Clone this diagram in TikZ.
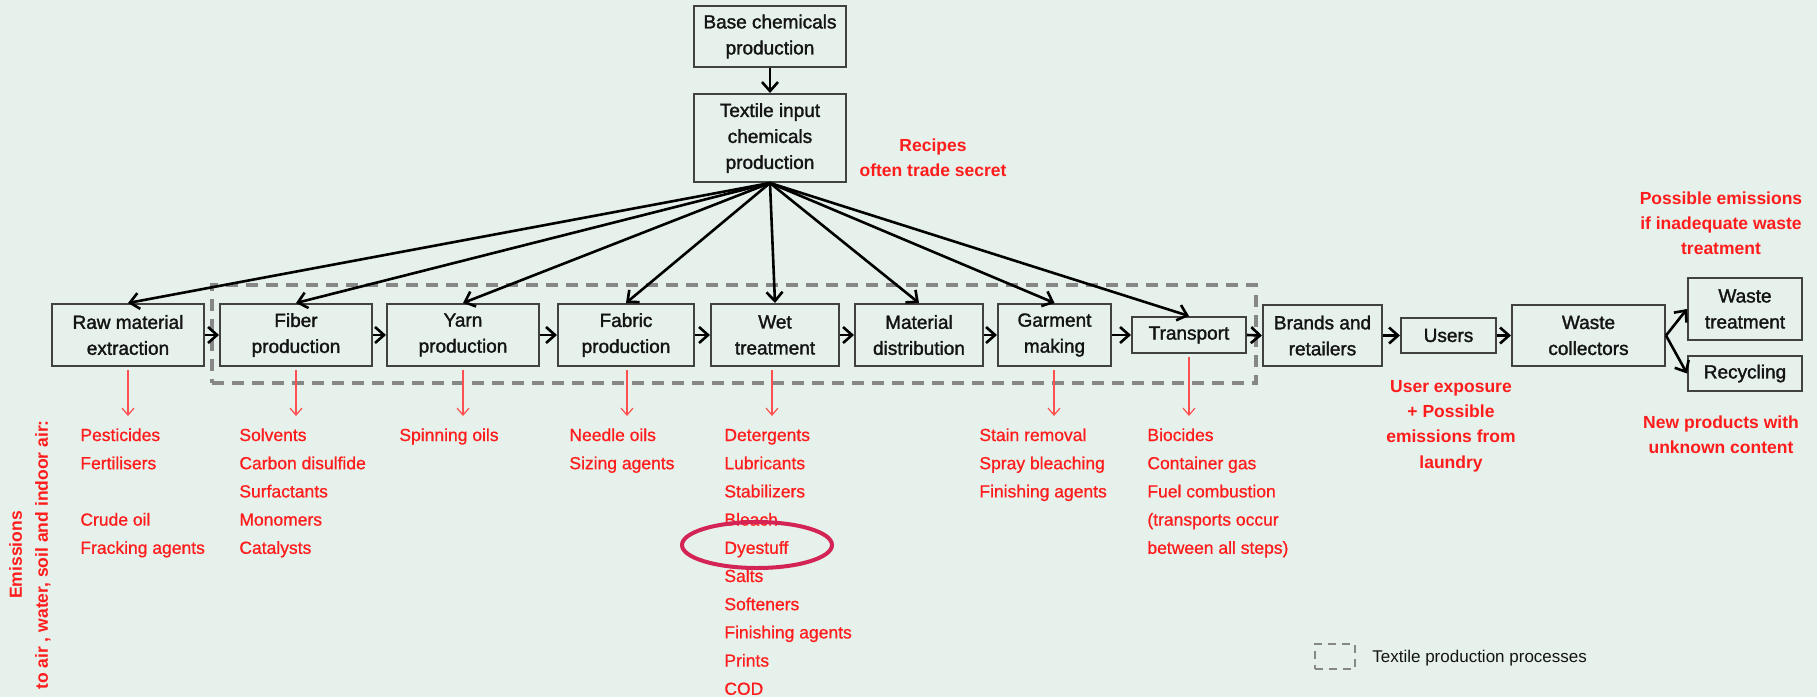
\documentclass[tikz,border=0pt]{standalone}
\usepackage{fontspec}
\setmainfont{Liberation Sans}
\newfontfamily\boxfont[RawFeature={embolden=1.6}]{Liberation Sans}
\newfontfamily\listfont[RawFeature={embolden=0.8}]{Liberation Sans}
\usetikzlibrary{arrows.meta}

\definecolor{bgc}{RGB}{229,241,234}
\definecolor{boxline}{RGB}{65,65,65}
\definecolor{boxtext}{RGB}{20,20,20}
\definecolor{redtxt}{RGB}{255,28,28}
\definecolor{redarr}{RGB}{255,80,80}
\definecolor{dashgray}{RGB}{135,135,135}
\definecolor{ringc}{RGB}{212,36,86}

% one red list of substances, one line per item
\newcommand\emitlist[3]{%
  \foreach \t [count=\i from 0] in {#3}
    \node[lst] (#1-\i) at (#2,{441+28.2*\i}) {\t};}

\begin{document}
\begin{tikzpicture}[x=0.5pt,y=-0.5pt,
  proc/.style={draw=boxline,line width=1pt,align=center,inner sep=0pt,
    font=\boxfont\fontsize{9.5}{13}\selectfont,text=boxtext},
  flow/.style={-{Straight Barb[length=4.5pt,width=8pt,line width=1.3pt]},line width=1.3pt,black},
  emit/.style={-{Straight Barb[length=3.5pt,width=6pt,line width=0.6pt]},line width=0.6pt,redarr},
  lst/.style={font=\listfont\fontsize{8.75}{14}\selectfont,text=redtxt,inner sep=0pt,anchor=base west},
  note/.style={font=\bfseries\fontsize{8.75}{12.6}\selectfont,text=redtxt,align=center,inner sep=0pt},
  frame/.style={draw=dashgray,line width=1.6pt,dash pattern=on 6pt off 4pt,inner sep=0pt},
]
% background and page size
\fill[bgc] (0,0) rectangle (1817,697);
\useasboundingbox (0,0) rectangle (1817,697);

% frame around the textile production processes
\node[frame,minimum width=522pt,minimum height=49pt] (procframe) at (734,334) {};

% chemical supply
\node[proc,minimum width=76pt,minimum height=30.5pt] (base) at (770,36.5) {Base chemicals\\production};
\node[proc,minimum width=76pt,minimum height=44pt] (input) at (770,138) {Textile input\\chemicals\\production};

% life cycle chain
\node[proc,minimum width=76pt,minimum height=31pt] (raw) at (128,335) {Raw material\\extraction};
\node[proc,minimum width=76pt,minimum height=31pt] (fiber) at (296,335) {Fiber\\production};
\node[proc,minimum width=76pt,minimum height=31pt] (yarn) at (463,335) {Yarn\\production};
\node[proc,minimum width=68pt,minimum height=31pt] (fabric) at (626,335) {Fabric\\production};
\node[proc,minimum width=64pt,minimum height=31pt] (wet) at (775,335) {Wet\\treatment};
\node[proc,minimum width=64pt,minimum height=31pt] (material) at (919,335) {Material\\distribution};
\node[proc,minimum width=56.5pt,minimum height=31pt] (garment) at (1054.5,335) {Garment\\making};
\node[proc,minimum width=57pt,minimum height=18pt] (transport) at (1189,335) {Transport};
\node[proc,minimum width=59.5pt,minimum height=30.5pt] (brands) at (1322.5,335.5) {Brands and\\retailers};
\node[proc,minimum width=47.5pt,minimum height=17.5pt] (users) at (1448.5,335.5) {Users};
\node[proc,minimum width=76.5pt,minimum height=30.5pt] (collectors) at (1588.5,335.5) {Waste\\collectors};
\node[proc,minimum width=57pt,minimum height=31pt] (wastetr) at (1745,309) {Waste\\treatment};
\node[proc,minimum width=57pt,minimum height=17.5pt] (recycling) at (1745,373.5) {Recycling};

% black connectors
\draw[flow] (base.south) -- (input.north);
\foreach \n in {raw,fiber,yarn,fabric,wet,material,garment,transport}
  \draw[flow] (input.south) -- (\n.north);
\foreach \a/\b in {raw/fiber,fiber/yarn,yarn/fabric,fabric/wet,wet/material,
    material/garment,garment/transport,transport/brands,brands/users,users/collectors}
  \draw[flow] (\a.east) -- (\b.west);
\draw[flow] (collectors.east) -- (wastetr.west);
\draw[flow] (collectors.east) -- (recycling.west);

% emission arrows
\coordinate (raw-e) at (128,416);
\coordinate (fiber-e) at (296,416);
\coordinate (yarn-e) at (463,416);
\coordinate (fabric-e) at (627,416);
\coordinate (wet-e) at (772,416);
\coordinate (garment-e) at (1054,416);
\coordinate (transport-e) at (1189,416);
\foreach \n in {raw,fiber,yarn,fabric,wet,garment,transport}
  \draw[emit,shorten <=1.5pt] (\n-e |- \n.south) -- (\n-e);

% emitted substances
\emitlist{rawl}{80}{Pesticides,Fertilisers,{},Crude oil,Fracking agents}
\emitlist{fiberl}{239}{Solvents,Carbon disulfide,Surfactants,Monomers,Catalysts}
\emitlist{yarnl}{399}{Spinning oils}
\emitlist{fabricl}{569}{Needle oils,Sizing agents}
\emitlist{wetl}{724}{Detergents,Lubricants,Stabilizers,Bleach,Dyestuff,Salts,Softeners,Finishing agents,Prints,COD}
\emitlist{garmentl}{979}{Stain removal,Spray bleaching,Finishing agents}
\emitlist{transportl}{1147}{Biocides,Container gas,Fuel combustion,{(transports occur},{between all steps)}}

% highlight ring
\draw[ringc,line width=2pt] (757,545) ellipse [x radius=75,y radius=23];

% red remarks
\node[note] (recipes) at (933,158) {Recipes\\often trade secret};
\node[note] (userexp) at (1451,426) {User exposure\\+ Possible\\emissions from\\laundry};
\node[note] (wasteem) at (1721,223.5) {Possible emissions\\if inadequate waste\\treatment};
\node[note] (newprod) at (1721,434.5) {New products with\\unknown content};
\node[note,rotate=90,font=\bfseries\fontsize{8.75}{13}\selectfont] (emis) at (30,555)
  {Emissions\\to air , water, soil and indoor air:};

% legend
\node[draw=dashgray,line width=1pt,dash pattern=on 4pt off 3pt,inner sep=0pt,
  minimum width=20pt,minimum height=12.5pt] (legbox) at (1335,656.5) {};
\node[anchor=west,inner sep=0pt,font=\fontsize{8.5}{10}\selectfont,text=boxtext]
  (legtxt) at (1372,658) {Textile production processes};
\end{tikzpicture}
\end{document}
